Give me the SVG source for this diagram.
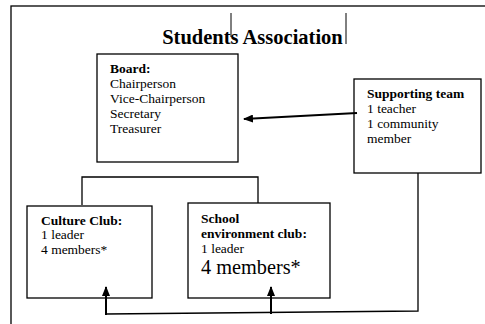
<svg xmlns="http://www.w3.org/2000/svg" width="485" height="324" viewBox="0 0 485 324">
<style>
text{font-family:"Liberation Serif","Times New Roman",serif;fill:#000;font-size:13.5px}
.b{font-weight:bold}
.box{fill:#fff;stroke:#000;stroke-width:1.3}
.ln{fill:none;stroke:#000;stroke-width:1.3}
.ar{fill:none;stroke:#000;stroke-width:2}
</style>
<defs>
<marker id="ah" markerWidth="10" markerHeight="8" refX="9" refY="4" orient="auto" markerUnits="userSpaceOnUse">
<path d="M0,0 L10,4 L0,8 Z" fill="#000"/>
</marker>
</defs>
<rect x="0" y="0" width="485" height="324" fill="#fff"/>
<rect x="11" y="6" width="490" height="330" fill="none" stroke="#000" stroke-width="1.3"/>
<g id="title">
<text x="252.5" y="44" text-anchor="middle" class="b" style="font-size:20.5px">Students Association</text>
<line x1="231" y1="13" x2="231" y2="37" stroke="#000" stroke-width="1"/>
<line x1="346" y1="13" x2="346" y2="44" stroke="#000" stroke-width="1"/>
</g>
<g id="board">
<rect class="box" x="97" y="54" width="141" height="108"/>
<text x="110" y="73" class="b">Board:</text>
<text x="110" y="88">Chairperson</text>
<text x="110" y="103">Vice-Chairperson</text>
<text x="110" y="118">Secretary</text>
<text x="110" y="133">Treasurer</text>
</g>
<g id="supporting">
<rect class="box" x="354" y="79" width="127" height="94"/>
<text x="367" y="98" class="b">Supporting team</text>
<text x="367" y="113">1 teacher</text>
<text x="367" y="128">1 community</text>
<text x="367" y="143">member</text>
</g>
<g id="culture">
<rect class="box" x="27" y="206" width="125" height="92"/>
<text x="41" y="225" class="b">Culture Club:</text>
<text x="41" y="239">1 leader</text>
<text x="41" y="254">4 members*</text>
</g>
<g id="school">
<rect class="box" x="188" y="203" width="142" height="95"/>
<text x="201" y="223" class="b">School</text>
<text x="201" y="238" class="b">environment club:</text>
<text x="201" y="253">1 leader</text>
<text x="201" y="274" style="font-size:20.3px">4 members*</text>
</g>
<g id="connectors">
<line class="ar" x1="357" y1="113" x2="244" y2="119" marker-end="url(#ah)"/>
<polyline class="ln" points="82,205 82,177 258,177 258,203"/>
<polyline class="ln" points="418,173 418,311 106,314"/>
<line class="ar" x1="106" y1="315" x2="106" y2="287" marker-end="url(#ah)"/>
<line class="ar" x1="271" y1="314" x2="271" y2="287" marker-end="url(#ah)"/>
</g>
</svg>
